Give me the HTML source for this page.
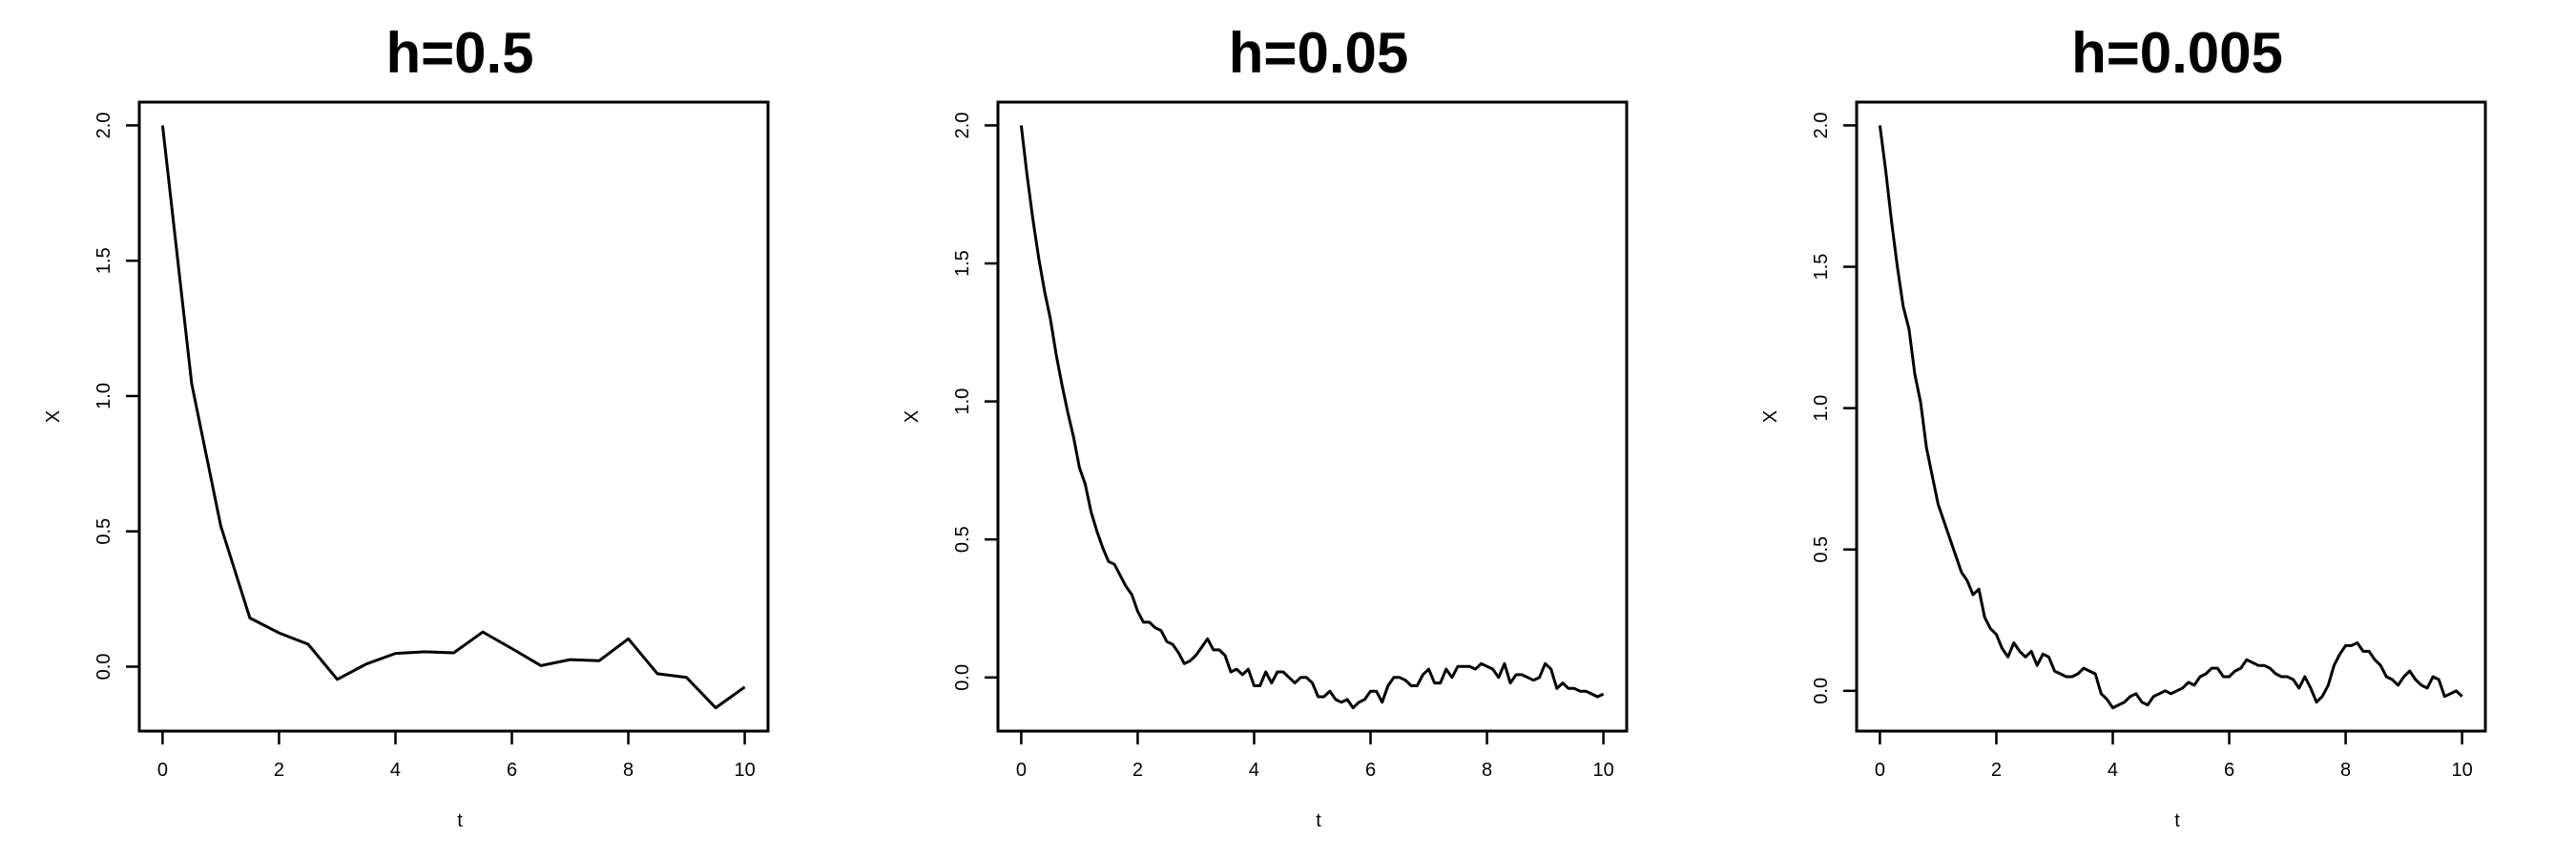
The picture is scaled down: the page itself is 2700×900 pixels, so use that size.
<!DOCTYPE html>
<html><head><meta charset="utf-8"><style>
html,body{margin:0;padding:0;background:#fff;}
svg{display:block;font-family:"Liberation Sans",Arial,sans-serif;}
</style></head><body>
<svg id="chart" width="2700" height="900" viewBox="0 0 2700 900" xmlns="http://www.w3.org/2000/svg">
<rect width="2700" height="900" fill="#fff"/>
</svg>
<script>
const titles = ["h=0.5", "h=0.05", "h=0.005"];
const xTicks = [0, 2, 4, 6, 8, 10];
const yTicks = [0, 0.5, 1, 1.5, 2];
const yTickLabels = ["0.0", "0.5", "1.0", "1.5", "2.0"];
const t1 = [0,0.5,1,1.5,2,2.5,3,3.5,4,4.5,5,5.5,6,6.5,7,7.5,8,8.5,9,9.5,10];
const x1 = [2.0,1.046,0.52,0.18,0.125,0.083,-0.047,0.01,0.049,0.055,0.051,0.128,0.067,0.004,0.026,0.022,0.103,-0.026,-0.04,-0.152,-0.075];
const t2 = [0,0.1,0.2,0.3,0.4,0.5,0.6,0.7,0.8,0.9,1,1.1,1.2,1.3,1.4,1.5,1.6,1.7,1.8,1.9,2,2.1,2.2,2.3,2.4,2.5,2.6,2.7,2.8,2.9,3,3.1,3.2,3.3,3.4,3.5,3.6,3.7,3.8,3.9,4,4.1,4.2,4.3,4.4,4.5,4.6,4.7,4.8,4.9,5,5.1,5.2,5.3,5.4,5.5,5.6,5.7,5.8,5.9,6,6.1,6.2,6.3,6.4,6.5,6.6,6.7,6.8,6.9,7,7.1,7.2,7.3,7.4,7.5,7.6,7.7,7.8,7.9,8,8.1,8.2,8.3,8.4,8.5,8.6,8.7,8.8,8.9,9,9.1,9.2,9.3,9.4,9.5,9.6,9.7,9.8,9.9,10];
const x2 = [2.0,1.82,1.66,1.52,1.40,1.30,1.17,1.06,0.96,0.87,0.76,0.70,0.60,0.53,0.47,0.42,0.41,0.37,0.33,0.30,0.24,0.20,0.20,0.18,0.17,0.13,0.12,0.09,0.05,0.06,0.08,0.11,0.14,0.10,0.10,0.08,0.02,0.03,0.01,0.03,-0.03,-0.03,0.02,-0.02,0.02,0.02,0.00,-0.02,0.00,0.00,-0.02,-0.07,-0.07,-0.05,-0.08,-0.09,-0.08,-0.11,-0.09,-0.08,-0.05,-0.05,-0.09,-0.03,0.00,0.00,-0.01,-0.03,-0.03,0.01,0.03,-0.02,-0.02,0.03,0.00,0.04,0.04,0.04,0.03,0.05,0.04,0.03,0.00,0.05,-0.02,0.01,0.01,0.00,-0.01,0.00,0.05,0.03,-0.04,-0.02,-0.04,-0.04,-0.05,-0.05,-0.06,-0.07,-0.06];
const t3 = t2;
const x3 = [2.0,1.84,1.66,1.50,1.36,1.28,1.12,1.02,0.86,0.76,0.66,0.60,0.54,0.48,0.42,0.39,0.34,0.36,0.26,0.22,0.20,0.15,0.12,0.17,0.14,0.12,0.14,0.09,0.13,0.12,0.07,0.06,0.05,0.05,0.06,0.08,0.07,0.06,-0.01,-0.03,-0.06,-0.05,-0.04,-0.02,-0.01,-0.04,-0.05,-0.02,-0.01,0.00,-0.01,0.00,0.01,0.03,0.02,0.05,0.06,0.08,0.08,0.05,0.05,0.07,0.08,0.11,0.10,0.09,0.09,0.08,0.06,0.05,0.05,0.04,0.01,0.05,0.01,-0.04,-0.02,0.02,0.09,0.13,0.16,0.16,0.17,0.14,0.14,0.11,0.09,0.05,0.04,0.02,0.05,0.07,0.04,0.02,0.01,0.05,0.04,-0.02,-0.01,0.00,-0.02];

const NS = "http://www.w3.org/2000/svg";
const svg = document.getElementById("chart");
function mk(tag, attrs, parent) {
  const e = document.createElementNS(NS, tag);
  for (const k in attrs) e.setAttribute(k, attrs[k]);
  (parent || svg).appendChild(e);
  return e;
}
const panels = [[t1, x1], [t2, x2], [t3, x3]];
panels.forEach(function (p, i) {
  const ox = i * 900;
  const g = mk("g", {});
  
  
  const L = ox + 146, R = ox + 805, T = 107, B = 766;
  const ts = p[0], xs = p[1];
  const tmin = Math.min.apply(null, ts), tmax = Math.max.apply(null, ts);
  const ymin = Math.min.apply(null, xs), ymax = Math.max.apply(null, xs);
  const tp = (tmax - tmin) * 0.04, yp = (ymax - ymin) * 0.04;
  const sx = v => L + (v - (tmin - tp)) / ((tmax + tp) - (tmin - tp)) * (R - L);
  const sy = v => B - (v - (ymin - yp)) / ((ymax + yp) - (ymin - yp)) * (B - T);
  const cx = ox + 482;

  const title = mk("text", {x: cx, y: 76, "text-anchor": "middle", "font-size": 60, "font-weight": "bold"}, g);
  title.textContent = titles[i];
  
  

  const box = mk("rect", {x: L, y: T, width: R - L, height: B - T, fill: "none", stroke: "#000", "stroke-width": 3}, g);
  
  

  const xa = mk("g", {}, g);
  
  
  mk("line", {x1: sx(xTicks[0]), x2: sx(xTicks[xTicks.length - 1]), y1: B, y2: B, stroke: "#000", "stroke-width": 2.5}, xa);
  xTicks.forEach(function (v) {
    mk("line", {x1: sx(v), x2: sx(v), y1: B, y2: B + 14, stroke: "#000", "stroke-width": 2.5}, xa);
    const tx = mk("text", {x: sx(v), y: 813, "text-anchor": "middle", "font-size": 20}, xa);
    tx.textContent = String(v);
    
    
  });
  const xl = mk("text", {x: cx, y: 866, "text-anchor": "middle", "font-size": 20}, g);
  xl.textContent = "t";
  
  

  const ya = mk("g", {}, g);
  
  
  mk("line", {x1: L, x2: L, y1: sy(yTicks[0]), y2: sy(yTicks[yTicks.length - 1]), stroke: "#000", "stroke-width": 2.5}, ya);
  yTicks.forEach(function (v, j) {
    mk("line", {x1: L - 14, x2: L, y1: sy(v), y2: sy(v), stroke: "#000", "stroke-width": 2.5}, ya);
    const tx = mk("text", {x: 0, y: 0, "text-anchor": "middle", "font-size": 20, transform: "translate(" + (ox + 115) + "," + sy(v) + ") rotate(-90)"}, ya);
    tx.textContent = yTickLabels[j];
    
    
  });
  const yl = mk("text", {x: 0, y: 0, "text-anchor": "middle", "font-size": 20, transform: "translate(" + (ox + 62) + "," + ((T + B) / 2) + ") rotate(-90)"}, g);
  yl.textContent = "X";
  
  

  const d = ts.map((t, k) => (k ? "L" : "M") + sx(t).toFixed(1) + "," + sy(xs[k]).toFixed(1)).join(" ");
  const line = mk("path", {d: d, fill: "none", stroke: "#000", "stroke-width": 3, "stroke-linejoin": "round"}, g);
  
  
});
</script>
</body></html>
